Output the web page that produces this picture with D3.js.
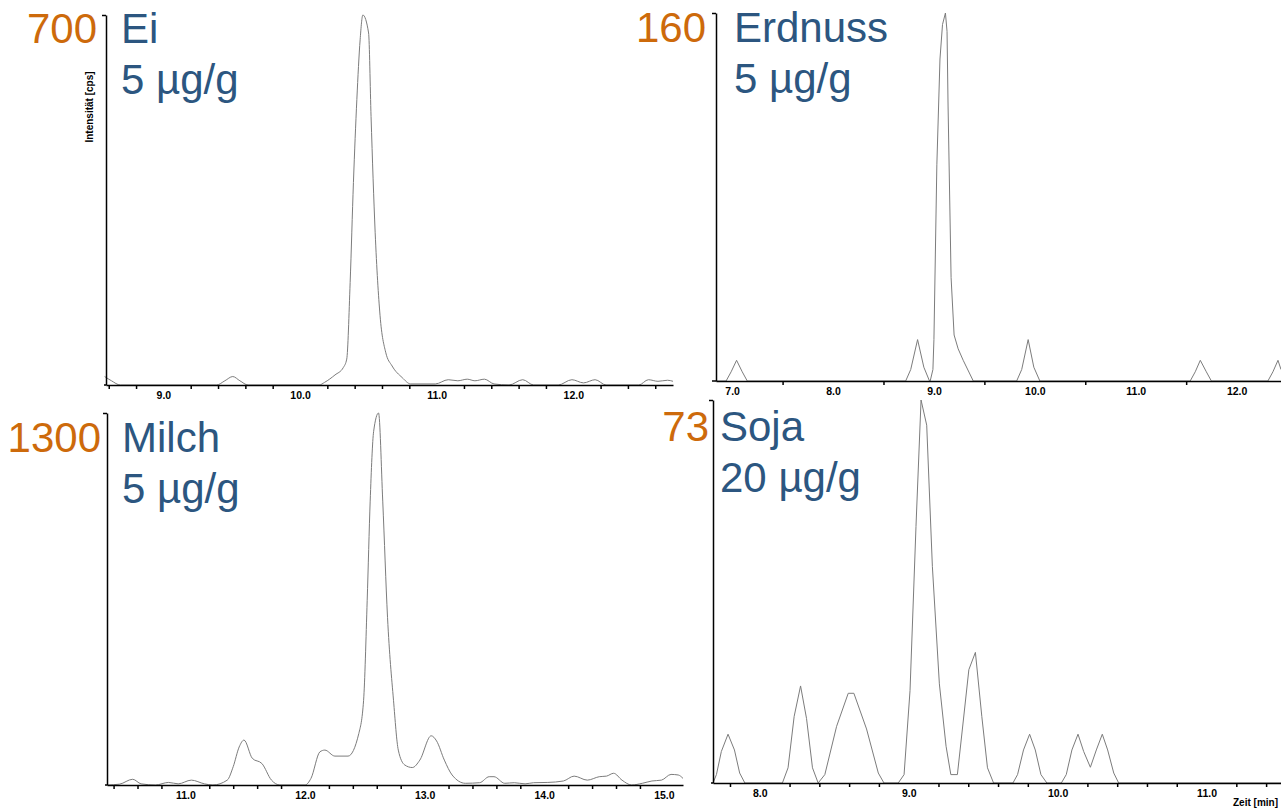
<!DOCTYPE html>
<html>
<head>
<meta charset="utf-8">
<script src="https://cdn.jsdelivr.net/npm/d3@7"></script>
<style>
  body { margin: 0; background: #fff; }
  .frame { font-family: Arial, "Liberation Sans", sans-serif; }
  .tick text { font-weight: bold; font-size: 10.5px; fill: #000; }
</style>
</head>
<body>
<div id="vis"></div>
<script>
// chromatogram data, [time in min, intensity in cps]
const EI_POINTS = [[8.57,16],[8.62,8],[8.685,0],[9.39,0],[9.45,8],[9.508,16],[9.56,8],[9.62,0],
  [10.14,0],[10.18,5],[10.256,19],[10.317,33],[10.342,49],[10.367,194],[10.391,383],[10.416,540],
  [10.44,653],[10.46,700],[10.502,666],[10.52,508],[10.55,289],[10.586,131],[10.627,62],[10.674,36],
  [10.748,14],[10.81,2],[10.99,2],[11.085,10],[11.155,8],[11.224,11],[11.28,8],[11.35,11],[11.42,2],
  [11.53,0],[11.63,10],[11.71,0],[11.89,0],[11.99,10],[12.075,4],[12.16,10],[12.24,0],[12.48,0],
  [12.55,10],[12.62,7],[12.69,9],[12.73,7]];

const ERDNUSS_POINTS = [[6.84,0],[6.94,0],[6.99,4],[7.044,9],[7.1,4],[7.15,0],[8.72,0],[8.77,5],
  [8.838,18],[8.9,6],[8.956,0],[8.963,0],[8.99,5],[9.0,18],[9.029,94],[9.06,140],[9.085,155],
  [9.114,160],[9.13,152],[9.14,120],[9.17,45],[9.2,20],[9.24,14],[9.29,9],[9.39,0],[9.82,0],
  [9.87,5],[9.934,18],[9.99,6],[10.05,0],[11.54,0],[11.59,4],[11.64,9],[11.7,4],[11.75,0],
  [12.31,0],[12.36,4],[12.41,9],[12.44,5]];

const MILCH_POINTS = [[10.35,0],[10.45,3],[10.56,20],[10.63,4],[10.75,0],[10.86,9],[10.94,4],
  [11.05,17],[11.16,4],[11.23,0],[11.35,17],[11.40,64],[11.45,133],[11.49,157],[11.56,93],
  [11.64,75],[11.72,17],[11.79,0],[12.0,0],[12.05,23],[12.125,116],[12.166,122],[12.25,101],
  [12.36,101],[12.45,180],[12.49,296],[12.52,644],[12.545,992],[12.574,1236],[12.615,1300],
  [12.65,992],[12.69,586],[12.74,296],[12.78,122],[12.834,70],[12.897,61],[12.96,87],[13.055,172],
  [13.10,154],[13.165,87],[13.23,35],[13.34,6],[13.46,8],[13.54,29],[13.58,29],[13.67,6],
  [13.75,8],[13.84,4],[13.91,8],[14.03,9],[14.16,14],[14.25,31],[14.36,17],[14.46,29],[14.52,31],
  [14.58,41],[14.65,17],[14.73,0],[14.82,6],[14.90,14],[14.98,17],[15.06,37],[15.12,35],[15.16,23]];

const SOJA_POINTS = [[7.686,0],[7.709,1.6],[7.742,6],[7.787,9.3],[7.83,6.3],[7.865,1.9],[7.90,0],
  [8.152,0],[8.19,2.9],[8.231,12.7],[8.274,18.5],[8.314,12.3],[8.354,2.9],[8.392,0],[8.437,1.6],
  [8.516,10.8],[8.594,17.1],[8.632,17.1],[8.717,10.3],[8.796,1.9],[8.834,0],[8.93,0],[8.969,1.6],
  [9.009,17.6],[9.049,48.9],[9.083,73],[9.121,68.2],[9.159,41.3],[9.206,18.9],[9.251,7],
  [9.283,1.6],[9.327,1.6],[9.368,12.2],[9.404,21.6],[9.448,24.9],[9.491,12.7],[9.529,2.9],
  [9.57,0],[9.70,0],[9.731,1.6],[9.771,6.3],[9.812,9.3],[9.85,6.3],[9.888,1.6],[9.928,0],
  [10.025,0],[10.058,1.6],[10.096,6.3],[10.137,9.3],[10.175,6],[10.22,3],[10.26,6.3],[10.30,9.3],
  [10.336,6.3],[10.377,1.9],[10.41,0],[11.5,0]];

const NAMES = ["Ei", "Erdnuss", "Milch", "Soja"];
const AMOUNTS = ["5 µg/g", "5 µg/g", "5 µg/g", "20 µg/g"];
const MAX_LABELS = ["700", "160", "1300", "73"];
const MAX_VALUES = [700, 160, 1300, 73];
const TIME_DOMAINS = [[8.58, 12.73], [6.84, 12.44], [10.345, 15.16], [7.686, 11.5]];
const LABEL_TICKS = [[9, 10, 11, 12], [7, 8, 9, 10, 11, 12], [11, 12, 13, 14, 15], [8, 9, 10, 11]];
const MINOR_STEP = [0.2, 0.5, 0.2, 0.2];

// panel boxes and text anchors in pixels
const PANELS = [
  {left: 106, right: 673, top: 15, bottom: 385, axisStart: 104, maxX: 97, nameX: 121, textY: 43,
   curve: d3.curveMonotoneX, points: EI_POINTS},
  {left: 716, right: 1281, top: 13, bottom: 381, axisStart: 712, maxX: 706, nameX: 734, textY: 42,
   curve: d3.curveLinear, points: ERDNUSS_POINTS},
  {left: 107, right: 683, top: 413, bottom: 785, axisStart: 105, maxX: 101, nameX: 122, textY: 452,
   curve: d3.curveMonotoneX, points: MILCH_POINTS},
  {left: 713, right: 1281, top: 400, bottom: 783, axisStart: 711, maxX: 709, nameX: 720, textY: 441,
   curve: d3.curveLinear, points: SOJA_POINTS}
];

const ORANGE = "#cd6a0b";
const BLUE = "#2c5680";

const FRAME = d3.select("#vis")
  .append("svg")
    .attr("width", 1281)
    .attr("height", 811)
    .attr("class", "frame");

PANELS.forEach((p, i) => {

  const X_SCALE = d3.scaleLinear()
                    .domain(TIME_DOMAINS[i])
                    .range([p.left, p.right]);
  const Y_SCALE = d3.scaleLinear()
                    .domain([0, MAX_VALUES[i]])
                    .range([p.bottom, p.top]);

  // trace
  const line = d3.line()
                 .x((d) => { return X_SCALE(d[0]); })
                 .y((d) => { return Y_SCALE(d[1]); })
                 .curve(p.curve);

  FRAME.append("path")
       .datum(p.points)
       .attr("d", line)
       .attr("fill", "none")
       .attr("stroke", "#7c7c7c")
       .attr("stroke-width", 1);

  // minor ticks (not on labelled positions)
  const [t0, t1] = TIME_DOMAINS[i];
  const step = MINOR_STEP[i];
  const minor = [];
  for (let k = Math.ceil(t0 / step); k * step <= t1; k++) {
    const v = +(k * step).toFixed(2);
    if (Math.abs(v - Math.round(v)) > 0.01) minor.push(v);
  }

  // small stub of the x axis left of the y axis
  FRAME.append("line")
       .attr("x1", p.axisStart).attr("x2", p.left)
       .attr("y1", p.bottom).attr("y2", p.bottom)
       .attr("stroke", "#000").attr("stroke-width", 1.5);

  FRAME.append("g")
       .attr("transform", "translate(0," + p.bottom + ")")
       .call(d3.axisBottom(X_SCALE).tickValues(minor).tickFormat("").tickSize(4).tickSizeOuter(0))
       .call(g => g.selectAll("line, path").attr("stroke", "#000").attr("stroke-width", 1.5));

  // labelled ticks
  FRAME.append("g")
       .attr("transform", "translate(0," + p.bottom + ")")
       .call(d3.axisBottom(X_SCALE).tickValues(LABEL_TICKS[i]).tickFormat(d3.format(".1f"))
               .tickSize(0).tickPadding(7).tickSizeOuter(0))
       .call(g => g.select(".domain").remove());

  // y axis with one tick at the top
  FRAME.append("g")
       .attr("transform", "translate(" + p.left + ",0)")
       .call(d3.axisLeft(Y_SCALE).tickValues([MAX_VALUES[i]]).tickFormat("").tickSize(4).tickSizeOuter(0))
       .call(g => g.selectAll("line, path").attr("stroke", "#000").attr("stroke-width", 1.5));

  // max value in orange
  FRAME.append("text")
       .attr("x", p.maxX)
       .attr("y", p.textY)
       .attr("text-anchor", "end")
       .attr("font-size", "42px")
       .attr("fill", ORANGE)
       .text(MAX_LABELS[i]);

  // name and amount in blue
  FRAME.append("text")
       .attr("x", p.nameX)
       .attr("y", p.textY)
       .attr("font-size", "42px")
       .attr("fill", BLUE)
       .text(NAMES[i]);

  FRAME.append("text")
       .attr("x", p.nameX)
       .attr("y", p.textY + 51)
       .attr("font-size", "42px")
       .attr("fill", BLUE)
       .text(AMOUNTS[i]);
});

// axis titles
FRAME.append("text")
     .attr("transform", "translate(93,107) rotate(-90)")
     .attr("text-anchor", "middle")
     .attr("font-size", "10px")
     .attr("font-weight", "bold")
     .text("Intensität [cps]");

FRAME.append("text")
     .attr("x", 1278)
     .attr("y", 806)
     .attr("text-anchor", "end")
     .attr("font-size", "10px")
     .attr("font-weight", "bold")
     .text("Zeit [min]");
</script>
</body>
</html>
